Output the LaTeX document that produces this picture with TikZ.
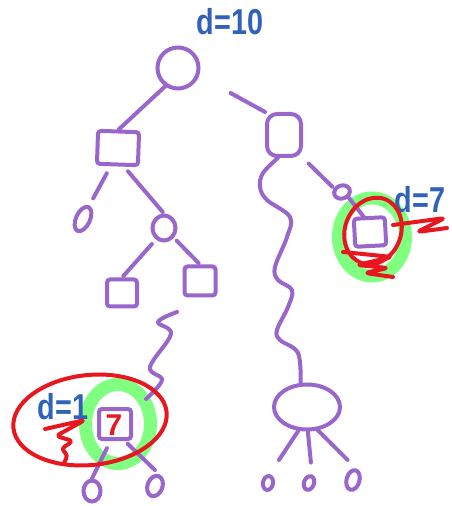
\documentclass[tikz,border=0pt]{standalone}
\usepackage{fontspec}
\setmainfont{Liberation Sans}
\usetikzlibrary{shapes.geometric}
\definecolor{pen}{HTML}{9966CC}
\definecolor{bluepen}{HTML}{2F62B8}
\definecolor{redpen}{HTML}{E8171F}
\definecolor{greenpen}{HTML}{80FF80}
\begin{document}
\begin{tikzpicture}[x=0.5pt,y=-0.5pt,
 purp/.style={draw=pen, line width=2pt},
 sq/.style={purp, rectangle, rounded corners=1.5pt, inner sep=0pt},
 ov/.style={purp, ellipse, inner sep=0pt},
 wire/.style={pen, line width=2pt, line cap=round, line join=round},
 ring/.style={draw=greenpen, ellipse, line width=6.5pt, inner sep=0pt},
 lasso/.style={draw=redpen, ellipse, line width=2pt, inner sep=0pt},
 scrib/.style={redpen, line width=2pt, line cap=round, line join=round, rounded corners=2pt},
 lab/.style={text=bluepen, font=\fontsize{18}{18}\selectfont\bfseries, xscale=0.8, inner sep=0pt}
]
\useasboundingbox (0,0) rectangle (451,506);
% green highlight rings
\node[ring, minimum width=32.5pt, minimum height=39.5pt] (g1) at (118,424) {};
\node[ring, minimum width=33.5pt, minimum height=39pt] (g2) at (372,237) {};
% tree nodes
\node[ov, circle, minimum size=20.5pt] (root) at (178,68) {};
\node[sq, minimum width=20.5pt, minimum height=16.5pt, rotate=-2] (L1) at (118,148) {};
\node[sq, rounded corners=5pt, minimum width=17pt, minimum height=21pt] (R1) at (284,135) {};
\node[ov, minimum width=7pt, minimum height=13pt, rotate=-25] (o1) at (83,219) {};
\node[ov, minimum width=11.5pt, minimum height=12.5pt] (c2) at (164,228) {};
\node[sq, minimum width=15pt, minimum height=13.5pt] (s3) at (122,293) {};
\node[sq, minimum width=15.5pt, minimum height=14.5pt] (s4) at (200,281) {};
\node[sq, minimum width=16pt, minimum height=15pt] (s5) at (115,424) {};
\node[ov, minimum width=8.5pt, minimum height=10.5pt] (o8) at (92,491) {};
\node[ov, minimum width=7.5pt, minimum height=10.5pt, rotate=-20] (o9) at (155,486) {};
\node[ov, minimum width=8pt, minimum height=6.5pt, rotate=20] (o6) at (342,192) {};
\node[sq, minimum width=15.5pt, minimum height=14pt, rotate=3] (s7) at (370,232) {};
\node[ov, minimum width=33pt, minimum height=22.5pt] (E) at (307,407) {};
\node[ov, minimum width=5pt, minimum height=7pt, rotate=-10] (b1) at (268,483) {};
\node[ov, minimum width=5pt, minimum height=7pt, rotate=-20] (b2) at (309,483) {};
\node[ov, minimum width=6.5pt, minimum height=10pt, rotate=-15] (b3) at (353,480) {};
% edges
\draw[wire] (root.235) -- (L1.north);
\draw[wire, shorten <=18pt] (root.-20) -- (R1.north west);
\draw[wire, shorten <=4pt, shorten >=4pt] (L1.250) -- (o1.north);
\draw[wire, shorten <=3pt, shorten >=1pt] (L1.-70) -- (c2.north);
\draw[wire, shorten <=3pt, shorten >=1pt] (c2.235) -- (s3.north);
\draw[wire, shorten <=2pt, shorten >=1pt] (c2.-45) -- (s4.north);
\draw[wire, shorten <=4pt] (s5.-105) -- (o8.north);
\draw[wire, shorten <=2pt, shorten >=3pt] (s5.-60) -- (o9.north);
\draw[wire, shorten >=8.5pt] (E.-110) -- (b1.north);
\draw[wire, shorten >=6pt] (E.-88) -- (b2.north);
\draw[wire, shorten >=6pt] (E.-65) -- (b3.north);
\draw[wire, shorten <=4pt, shorten >=1pt] (R1.south east) -- (o6.135);
\draw[wire] (o6.-60) -- (s7.110);
% wavy paths
\draw[wire] plot[smooth, tension=0.6] coordinates {(R1.255) (263,173) (260,187) (267,200) (290,217) (287,237) (275,267) (278,280) (292,290) (288,307) (277,330) (280,340) (298,353) (E.105)};
\coordinate (w0) at (177,312);
\coordinate (w1) at (146,399);
\draw[wire] plot[smooth, tension=0.6] coordinates {(w0) (158,322) (171,334) (150,367) (162,380) (w1)};
% blue labels
\node[lab] (t10) at (230,22) {d=10};
\node[lab] (t1) at (63,407) {d=1};
\node[lab] (t7) at (420,200) {d=7};
% red marks
\node[lasso, minimum width=77pt, minimum height=45pt, rotate=6] (lassoL) at (90,420) {};
\node[lasso, minimum width=28pt, minimum height=34pt, rotate=-20] (lassoR) at (373,231) {};
\node[text=redpen, font=\fontsize{15}{15}\selectfont\bfseries, inner sep=0pt] (seven) at (114,425) {7};
\draw[scrib] (45,429) -- (85,420) -- (56,436) -- (73,441) -- (61,449) -- (68,455) -- (64,463);
\draw[scrib] (393,225) -- (445,218) -- (417,232) -- (447,228);
\draw[scrib] (343,252) -- (392,257) -- (357,265) -- (388,268) -- (365,273) -- (393,277);
\end{tikzpicture}
\end{document}
